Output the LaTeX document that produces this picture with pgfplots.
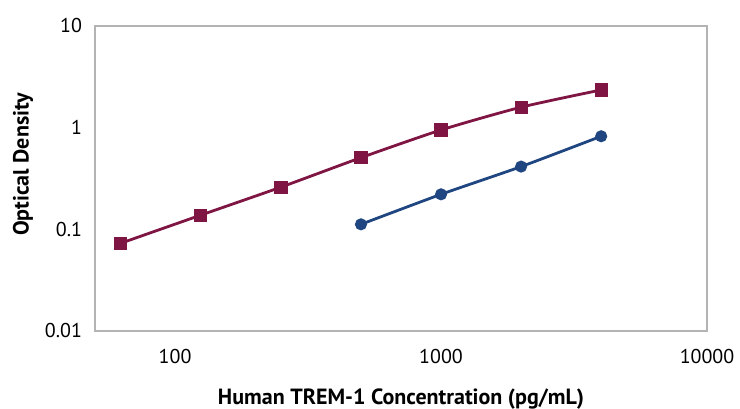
\documentclass[border=0pt]{standalone}
\usepackage{fontspec}
\setmainfont{PT Sans}
\usepackage{pgfplots}
\pgfplotsset{compat=1.18}
\definecolor{stdRed}{HTML}{7F1543}
\definecolor{smpBlue}{HTML}{1F4680}
\definecolor{frame}{HTML}{B3B3B3}

\begin{document}
\begin{tikzpicture}
\begin{axis}[
  scale only axis, width=306pt, height=152.5pt,
  xmode=log, ymode=log,
  xmin=50, xmax=10000, ymin=0.01, ymax=10,
  xtick={100,1000,10000}, xticklabels={100,1000,10000},
  ytick={0.01,0.1,1,10}, yticklabels={0.01,0.1,1,10},
  minor tick num=0, major tick length=0pt, minor tick length=0pt,
  axis line style={frame, line width=0.8pt},
  ticklabel style={font=\fontsize{10}{12}\selectfont},
  xticklabel style={yshift=-5.5pt},
  yticklabel style={xshift=-3pt},
  xlabel={\bfseries Human TREM-1 Concentration (pg/mL)},
  ylabel={\bfseries Optical Density},
  label style={font=\fontsize{11}{13}\selectfont},
  xlabel style={at={(0.5,0)}, anchor=center, yshift=-34pt},
  ylabel style={at={(0,0.5)}, anchor=center, xshift=7pt, yshift=36pt},
]
\addplot[stdRed, line width=1.4pt, smooth, tension=0.4, mark=square*, mark size=2.6pt, mark options={solid}]
  coordinates {(62.5,0.073) (125,0.138) (250,0.26) (500,0.507) (1000,0.949) (2000,1.59) (4000,2.35)};
\addplot[smpBlue, line width=1.4pt, smooth, tension=0.4, mark=*, mark size=2.3pt, mark options={solid}]
  coordinates {(500,0.112) (1000,0.221) (2000,0.414) (4000,0.823)};
\end{axis}
\pgfresetboundingbox
\path[use as bounding box] ([xshift=-47.5pt,yshift=-39pt]current axis.south west) rectangle ([xshift=16.5pt,yshift=13pt]current axis.north east);
\end{tikzpicture}
\end{document}
